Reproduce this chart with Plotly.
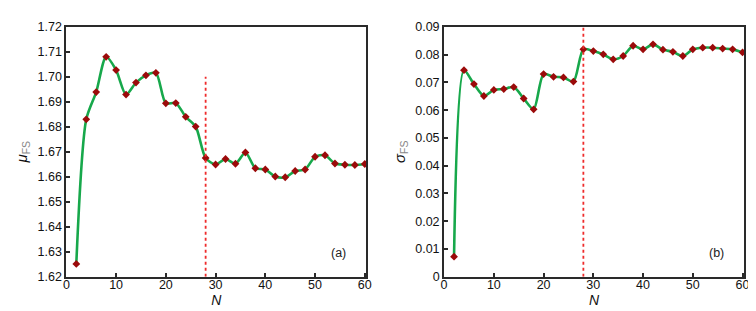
import plotly.graph_objects as go

# ---- data ----
N = [2, 4, 6, 8, 10, 12, 14, 16, 18, 20, 22, 24, 26, 28, 30,
     32, 34, 36, 38, 40, 42, 44, 46, 48, 50, 52, 54, 56, 58, 60]
mu_fs = [1.6251, 1.6830, 1.6939, 1.7080, 1.7027, 1.6929, 1.6977, 1.7006, 1.7016, 1.6894,
         1.6895, 1.6840, 1.6801, 1.6675, 1.6649, 1.6671, 1.6652, 1.6697, 1.6634, 1.6629,
         1.6601, 1.6598, 1.6623, 1.6629, 1.6680, 1.6686, 1.6653, 1.6648, 1.6647, 1.6651]
sigma_fs = [0.0072, 0.0744, 0.0694, 0.0651, 0.0673, 0.0676, 0.0683, 0.0642, 0.0603, 0.0730,
            0.0720, 0.0718, 0.0703, 0.0819, 0.0813, 0.0801, 0.0783, 0.0795, 0.0832, 0.0819,
            0.0837, 0.0818, 0.0810, 0.0795, 0.0819, 0.0825, 0.0825, 0.0822, 0.0819, 0.0808]
threshold_N = 28
vline_a = [1.62, 1.70]
vline_b = [0.0, 0.09]

mu_ticks = [1.62, 1.63, 1.64, 1.65, 1.66, 1.67, 1.68, 1.69, 1.70, 1.71, 1.72]
mu_ticktext = ["1.62", "1.63", "1.64", "1.65", "1.66", "1.67", "1.68", "1.69", "1.70", "1.71", "1.72"]
sig_ticks = [0, 0.01, 0.02, 0.03, 0.04, 0.05, 0.06, 0.07, 0.08, 0.09]
sig_ticktext = ["0", "0.01", "0.02", "0.03", "0.04", "0.05", "0.06", "0.07", "0.08", "0.09"]
x_ticks = [0, 10, 20, 30, 40, 50, 60]

LINE_C = "#17a84b"
MARK_C = "#9b0a0a"
FONT = "Liberation Sans, Arial, sans-serif"

fig = go.Figure()
for ys, xa, ya in [(mu_fs, "x", "y"), (sigma_fs, "x2", "y2")]:
    fig.add_trace(go.Scatter(
        x=N, y=ys, xaxis=xa, yaxis=ya, mode="lines+markers",
        line=dict(color=LINE_C, width=2.6, shape="spline", smoothing=0.75),
        marker=dict(symbol="diamond", size=6, color=MARK_C),
        showlegend=False, hoverinfo="x+y"))

fig.add_shape(type="line", xref="x", yref="y", x0=threshold_N, x1=threshold_N,
              y0=vline_a[0], y1=vline_a[1], line=dict(color="#ee2b2b", width=1.8, dash="dot"))
fig.add_shape(type="line", xref="x2", yref="y2", x0=threshold_N, x1=threshold_N,
              y0=vline_b[0], y1=vline_b[1], line=dict(color="#ee2b2b", width=1.8, dash="dot"))

axis_common = dict(showgrid=False, zeroline=False, showline=True, linecolor="#2a2a2a",
                   linewidth=2, mirror=True, ticks="inside", ticklen=4, tickwidth=1.5,
                   tickcolor="#2a2a2a", tickfont=dict(size=12.5, color="#111", family=FONT))

x_common = dict(range=[0, 60.3], tickvals=x_ticks, ticklabelstandoff=-5,
                title=dict(text="<i>N</i>", font=dict(size=14), standoff=0))

fig.update_layout(
    width=756, height=311,
    margin=dict(l=0, r=0, t=0, b=0),
    paper_bgcolor="white", plot_bgcolor="white",
    font=dict(family=FONT, color="#111"),
    xaxis=dict(domain=[0.074, 0.475], anchor="y", **x_common, **axis_common),
    yaxis=dict(domain=[0.119, 0.960], range=[1.62, 1.72], tickvals=mu_ticks,
               ticktext=mu_ticktext, anchor="x",
               title=dict(text="<i>μ</i><sub><span style='color:#888'>FS</span></sub>",
                          font=dict(size=15), standoff=6), **axis_common),
    xaxis2=dict(domain=[0.579, 0.980], anchor="y2", **x_common, **axis_common),
    yaxis2=dict(domain=[0.119, 0.960], range=[0, 0.09], tickvals=sig_ticks,
                ticktext=sig_ticktext, anchor="x2",
                title=dict(text="<i>σ</i><sub><span style='color:#888'>FS</span></sub>",
                           font=dict(size=15), standoff=6), **axis_common),
    annotations=[
        dict(text="(a)", xref="x domain", yref="y domain", x=0.94, y=0.06,
             showarrow=False, font=dict(size=12.5, color="#222")),
        dict(text="(b)", xref="x2 domain", yref="y2 domain", x=0.94, y=0.06,
             showarrow=False, font=dict(size=12.5, color="#222")),
    ],
)

fig.write_html("out.html")
